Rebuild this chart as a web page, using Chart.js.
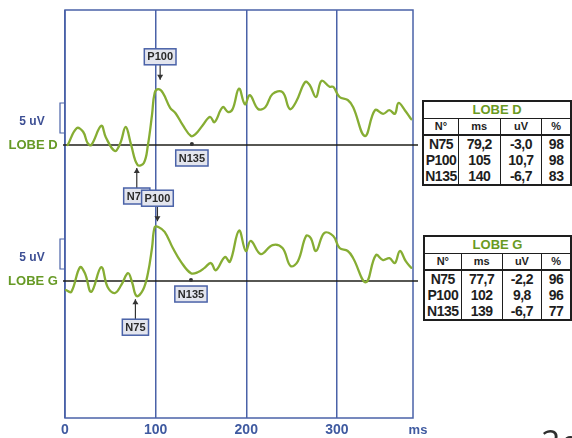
<!DOCTYPE html>
<html>
<head>
<meta charset="utf-8">
<script src="https://cdn.jsdelivr.net/npm/chart.js@4.4.1/dist/chart.umd.min.js"></script>
<style>
  html, body { margin: 0; padding: 0; background: #fff; overflow: hidden; }
  #wrap { position: relative; width: 572px; height: 438px; overflow: hidden; }
  canvas { position: absolute; left: 0; top: 0; }
  table.res {
    position: absolute; border-collapse: collapse; border: 2px solid #1e1e1e;
    font-family: Arial, "Liberation Sans", sans-serif; font-weight: bold; color: #1e1e1e;
    background: #fff;
  }
  table.res td { padding: 0; text-align: center; border-left: 1.5px solid #1e1e1e; white-space: nowrap; }
  table.res tr.title td { color: #6a9a22; font-size: 13px; height: 16px; line-height: 16px; border-bottom: 1.5px solid #1e1e1e; }
  table.res tr.head td { font-size: 11px; height: 15px; line-height: 15px; border-bottom: 2px solid #1e1e1e; }
  table.res tr.row td { font-size: 14px; height: 16px; line-height: 16px; letter-spacing: -0.5px; }
</style>
</head>
<body>
<div id="wrap">
  <canvas id="vep" width="572" height="438"></canvas>
</div>
<script>
// axe temporel (ms)
const msTicks = [0, 100, 200, 300];

// tracé LOBE D : temps (ms) / amplitude (uV)
const timeD = [3, 13, 20, 25, 29, 40, 45, 55, 61, 67, 73, 80, 87, 91.5, 96, 99, 103, 108, 116, 122,
  130, 139, 144, 152, 160, 165, 174, 180, 185, 192, 198.5, 204, 213, 221, 229, 240, 248, 255, 265, 270,
  277, 283, 292, 296, 303, 312, 318, 331, 342, 351, 358, 364, 368, 375, 382];
const valD = [0, 2.8, 2.2, 0.3, 0, 3.2, 1.3, -1.0, 0.3, 3.0, 0, -3.3, -3.0, 0, 5.0, 8.7, 9.3, 8.7, 6.2, 5.3,
  3.3, 1.5, 1.8, 3.3, 4.7, 3.8, 6.3, 5.5, 6.0, 9.4, 6.8, 8.3, 6.0, 6.3, 8.5, 8.8, 6.0, 7.2, 10.5, 10.0,
  8.0, 10.7, 9.7, 9.7, 8.0, 7.5, 6.3, 1.5, 5.8, 5.2, 5.8, 5.2, 7.0, 5.8, 4.3];

// tracé LOBE G
const timeG = [1, 7, 16.5, 22, 29, 40, 47, 55, 62, 69.5, 74, 79, 86, 91.5, 96, 99, 103, 110, 119, 128,
  139, 147, 154, 161, 166.5, 176.5, 182, 192, 199.5, 205, 216, 229, 240, 249, 257, 266, 271, 277, 286, 296,
  303, 312, 318, 332, 343, 351, 358, 364, 369.5, 376, 382];
const valG = [-1.5, -1.8, 2.3, 1.3, -1.8, 2.3, -1.0, -2.0, -0.7, 1.3, -0.2, -2.5, -1.5, 1.3, 5.5, 9.0, 9.0, 8.2, 5.5, 3.2,
  1.3, 1.5, 2.2, 3.0, 1.8, 4.0, 3.2, 8.4, 5.0, 6.7, 4.5, 6.0, 5.5, 2.5, 3.3, 7.5, 7.2, 5.0, 8.0, 7.5,
  5.5, 5.0, 3.8, -0.2, 4.3, 3.5, 3.8, 3.0, 5.0, 3.3, 2.2];

// résultats
const peakNames = ['N75', 'P100', 'N135'];
const latD = [79.2, 105, 140];
const ampD = [-3.0, 10.7, -6.7];
const pctD = [98, 98, 83];
const latG = [77.7, 102, 139];
const ampG = [-2.2, 9.8, -6.7];
const pctG = [96, 96, 77];

const BLUE = '#4a62a8';
const GREEN_TRACE = '#86ad33';
const GREEN_TXT = '#679a26';

function fmt(v, always) {
  if (!always && Number.isInteger(v)) return String(v);
  return v.toFixed(1).replace('.', ',');
}

function buildTable(title, lat, amp, pct, left, top, widths) {
  const t = document.createElement('table');
  t.className = 'res';
  t.style.left = left + 'px';
  t.style.top = top + 'px';
  let html = '<colgroup>' + widths.map(w => '<col style="width:' + w + 'px">').join('') + '</colgroup>';
  html += '<tr class="title"><td colspan="4">' + title + '</td></tr>';
  html += '<tr class="head"><td>N°</td><td>ms</td><td>uV</td><td>%</td></tr>';
  for (let i = 0; i < peakNames.length; i++) {
    html += '<tr class="row"><td>' + peakNames[i] + '</td><td>' + fmt(lat[i]) + '</td><td>' +
      fmt(amp[i], true) + '</td><td>' + pct[i] + '</td></tr>';
  }
  t.innerHTML = html;
  document.getElementById('wrap').appendChild(t);
}

buildTable('LOBE D', latD, ampD, pctD, 422, 100, [36, 45, 45, 32]);
buildTable('LOBE G', latG, ampG, pctG, 423, 235, [38, 44, 43, 32]);

function drawBox(ctx, text, cx, cy) {
  ctx.font = 'bold 11px Arial, "Liberation Sans", sans-serif';
  const w = ctx.measureText(text).width + 6;
  const h = 16;
  ctx.fillStyle = '#e3e5ee';
  ctx.fillRect(cx - w / 2, cy - h / 2, w, h);
  ctx.strokeStyle = BLUE;
  ctx.lineWidth = 1.5;
  ctx.strokeRect(cx - w / 2, cy - h / 2, w, h);
  ctx.fillStyle = '#2a2a2a';
  ctx.textAlign = 'center';
  ctx.textBaseline = 'middle';
  ctx.fillText(text, cx, cy + 0.5);
}

function drawArrow(ctx, x, y1, y2) {
  ctx.strokeStyle = '#333';
  ctx.fillStyle = '#333';
  ctx.lineWidth = 1.2;
  ctx.beginPath();
  ctx.moveTo(x, y1);
  ctx.lineTo(x, y2);
  ctx.stroke();
  const d = y2 > y1 ? 1 : -1;
  ctx.beginPath();
  ctx.moveTo(x, y2);
  ctx.lineTo(x - 3, y2 - d * 5);
  ctx.lineTo(x + 3, y2 - d * 5);
  ctx.closePath();
  ctx.fill();
}

const vepDecor = {
  id: 'vepDecor',
  beforeDatasetsDraw(chart) {
    const { ctx, chartArea: a, scales } = chart;
    ctx.save();
    // cadre
    ctx.strokeStyle = BLUE;
    ctx.lineWidth = 1.5;
    ctx.strokeRect(a.left, a.top, a.right - a.left, a.bottom - a.top);
    // lignes de base
    [['yD', 'LOBE D'], ['yG', 'LOBE G']].forEach(([id, name]) => {
      const ys = scales[id];
      const y0 = ys.getPixelForValue(0);
      ctx.strokeStyle = '#1f1f1a';
      ctx.lineWidth = 1.5;
      ctx.beginPath();
      ctx.moveTo(a.left - 2, y0);
      ctx.lineTo(a.right + 5, y0);
      ctx.stroke();
      // échelle 5 uV
      const yb = ys.getPixelForValue(2);
      const yt = ys.getPixelForValue(7);
      ctx.strokeStyle = BLUE;
      ctx.lineWidth = 1.2;
      ctx.beginPath();
      ctx.moveTo(a.left, yt);
      ctx.lineTo(a.left - 5, yt);
      ctx.lineTo(a.left - 5, yb);
      ctx.lineTo(a.left, yb);
      ctx.stroke();
      ctx.textAlign = 'center';
      ctx.textBaseline = 'middle';
      ctx.fillStyle = '#3d4f94';
      ctx.font = 'bold 12px Arial, "Liberation Sans", sans-serif';
      ctx.fillText('5 uV', 32, (yb + yt) / 2 + 4);
      ctx.fillStyle = GREEN_TXT;
      ctx.font = 'bold 13px Arial, "Liberation Sans", sans-serif';
      ctx.fillText(name, 33, y0);
    });
    ctx.restore();
  },
  afterDatasetsDraw(chart) {
    const { ctx, chartArea: a, scales } = chart;
    const x = scales.x;
    ctx.save();
    [['yD', latD, ampD], ['yG', latG, ampG]].forEach(([id, lat, amp]) => {
      const ys = scales[id];
      const y0 = ys.getPixelForValue(0);
      peakNames.forEach((name, i) => {
        const px = x.getPixelForValue(lat[i]);
        const py = ys.getPixelForValue(amp[i]);
        if (name === 'P100') {
          const cy = py - 24;
          drawArrow(ctx, px, cy + 8, py - 1);
          drawBox(ctx, name, px, cy);
        } else if (name === 'N75') {
          const tip = py + 5;
          const cy = tip + 28;
          drawArrow(ctx, px, cy - 8, tip);
          drawBox(ctx, name, px, cy);
        } else {
          ctx.fillStyle = '#333';
          ctx.beginPath();
          ctx.arc(px, y0 - 1, 2, 0, Math.PI * 2);
          ctx.fill();
          drawBox(ctx, name, px, y0 + 13);
        }
      });
    });
    // unité
    ctx.fillStyle = '#3f5aa0';
    ctx.font = 'bold 13px Arial, "Liberation Sans", sans-serif';
    ctx.textAlign = 'center';
    ctx.textBaseline = 'middle';
    ctx.fillText('ms', a.right + 5, a.bottom + 12);
    // numéro de page (coupé)
    ctx.fillStyle = '#2e2e2e';
    ctx.font = '34px "Open Sans", sans-serif';
    ctx.textAlign = 'left';
    ctx.textBaseline = 'alphabetic';
    ctx.fillText('2e', 541, 455);
    ctx.restore();
  }
};

const toPoints = (t, v) => t.map((ms, i) => ({ x: ms, y: v[i] }));

new Chart(document.getElementById('vep'), {
  type: 'line',
  data: {
    datasets: [
      { label: 'LOBE D', data: toPoints(timeD, valD), yAxisID: 'yD' },
      { label: 'LOBE G', data: toPoints(timeG, valG), yAxisID: 'yG' }
    ]
  },
  options: {
    responsive: false,
    animation: false,
    devicePixelRatio: 1,
    layout: { padding: { left: 65, right: 159, top: 10, bottom: 0 } },
    elements: {
      line: { borderColor: GREEN_TRACE, borderWidth: 2.3, tension: 0.4, borderJoinStyle: 'round', borderCapStyle: 'round' },
      point: { radius: 0 }
    },
    plugins: { legend: { display: false }, tooltip: { enabled: false } },
    scales: {
      x: {
        type: 'linear',
        min: 0,
        max: 384,
        afterBuildTicks: s => { s.ticks = msTicks.map(v => ({ value: v })); },
        afterFit: s => { s.height = 20; },
        border: { display: false },
        grid: { color: BLUE, lineWidth: 1.5, drawTicks: false },
        ticks: {
          color: '#3f5aa0',
          padding: 4,
          maxRotation: 0,
          font: { family: 'Arial, "Liberation Sans", sans-serif', size: 14, weight: 'bold' }
        }
      },
      yD: { type: 'linear', display: false, min: -45.5, max: 22.5 },
      yG: { type: 'linear', display: false, min: -22.83, max: 45.17 }
    }
  },
  plugins: [vepDecor]
});
</script>
</body>
</html>
